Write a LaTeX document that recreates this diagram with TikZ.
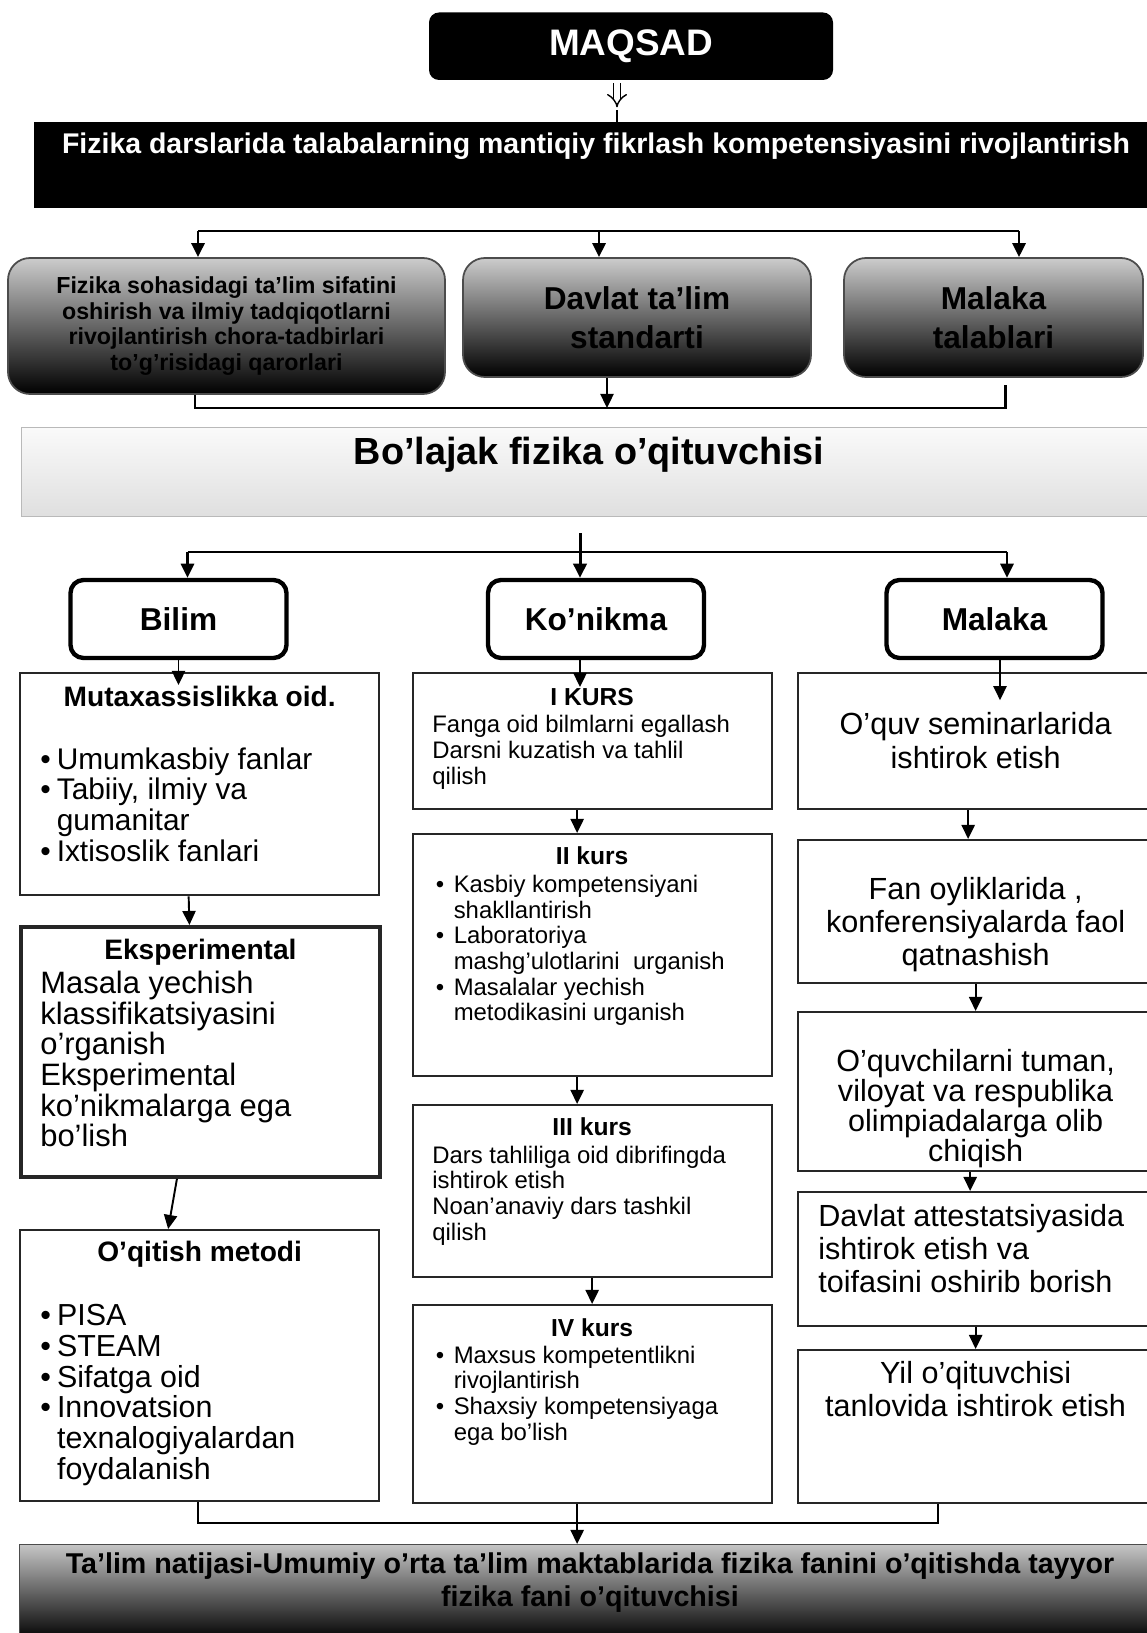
\documentclass[tikz,border=0pt]{standalone}
\usepackage{fontspec}
\setmainfont{Liberation Sans}
\usetikzlibrary{arrows.meta,positioning,calc}
\newcommand{\bul}[1][0.2em]{\textbullet\hspace{#1}}
\newcommand{\bulpad}[1][0.2em]{\hphantom{\textbullet}\hspace{#1}}

\begin{document}
\begin{tikzpicture}[
    arr/.style={-{Triangle[length=8pt,width=7.5pt]},line width=1.1pt},
    hub/.style={line width=1.7pt},
    grad/.style={draw=black!70,line width=1pt,rounded corners=0.44cm,top color=gray!40,
      bottom color=black,align=center,font=\fontsize{18}{22.5}\selectfont\bfseries},
    head/.style={draw=black,line width=2.5pt,rounded corners=0.26cm,fill=white,
      minimum width=4.32cm,minimum height=1.56cm,font=\fontsize{18}{22}\selectfont\bfseries},
    col/.style={draw=black!85,line width=1.3pt,anchor=north west,minimum width=7.18cm},
    ttl/.style={inner sep=0pt,font=\fontsize{16}{18}\selectfont\bfseries},
    kurs/.style={inner sep=0pt,font=\fontsize{14}{16}\selectfont\bfseries},
    big/.style={align=left,inner sep=0pt,font=\fontsize{17}{17.6}\selectfont},
    small/.style={align=left,inner sep=0pt,font=\fontsize{13.6}{14.6}\selectfont},
    side/.style={align=center,inner sep=0pt,font=\fontsize{17.4}{19.3}\selectfont}]
  \useasboundingbox (0,0) rectangle (22.92,-32.66);

  % goal and banner
  \node[fill=black,rounded corners=0.2cm,minimum width=8.08cm,minimum height=1.35cm,
    text=white,font=\fontsize{21}{24}\selectfont\bfseries] (maqsad) at (12.62,-0.925) {MAQSAD};
  \node[fill=black,minimum width=22.36cm,minimum height=1.72cm,anchor=north west] (banner) at (0.68,-2.44) {};
  \node[text=white,font=\fontsize{16.2}{18}\selectfont\bfseries] (bannertxt) at (11.92,-2.92)
    {Fizika darslarida talabalarning mantiqiy fikrlash kompetensiyasini rivojlantirish};
  \coordinate (m0) at ($(maqsad.south)+(-0.28,-0.06)$);
  \draw[double,double distance=3.2pt,line width=0.8pt,-{Implies[scale=1.6]}] (m0) -- ++(0,-0.48);
  \draw[line width=0.8pt] (banner.north -| m0) -- ++(0,0.24);

  % documents
  \node[grad,minimum width=8.74cm,minimum height=2.72cm,font=\fontsize{13.2}{14.5}\selectfont\bfseries]
    (decree) at (4.53,-6.52) {Fizika sohasidagi ta’lim sifatini\\oshirish va ilmiy tadqiqotlarni\\
    rivojlantirish chora-tadbirlari\\to’g’risidagi qarorlari};
  \node[grad,minimum width=6.96cm,minimum height=2.38cm] (standard) at (12.74,-6.35) {Davlat ta’lim\\standarti};
  \node[grad,minimum width=5.98cm,minimum height=2.38cm] (demand) at (19.87,-6.35) {Malaka\\talablari};

  \coordinate (t1) at (3.96,-4.62);
  \coordinate (t2) at (11.98,-4.62);
  \coordinate (t3) at (20.38,-4.62);
  \draw[hub] (t1) -- (t3);
  \draw[arr,line width=1.5pt] (t1) -- (t1 |- decree.north);
  \draw[arr,line width=1.5pt] (t2) -- (t2 |- standard.north);
  \draw[arr,line width=1.5pt] (t3) -- (t3 |- demand.north);

  \coordinate (j1) at (3.90,-8.16);
  \coordinate (j2) at (12.14,-8.16);
  \coordinate (j3) at (20.10,-8.16);
  \draw[hub] (decree.south -| j1) -- (j1) -- (j3) -- ++(0,0.46);
  \draw[arr] (standard.south -| j2) -- (j2);

  % future teacher
  \node[draw=gray!55,line width=0.8pt,top color=gray!4,bottom color=gray!25,
    minimum width=22.62cm,minimum height=1.78cm,anchor=north west] (future) at (0.42,-8.54) {};
  \node[font=\fontsize{21.5}{24}\selectfont\bfseries] (futuretxt) at (11.78,-9.10) {Bo’lajak fizika o’qituvchisi};

  \node[head] (bilim) at (3.57,-12.38) {Bilim};
  \node[head] (konikma) at (11.92,-12.38) {Ko’nikma};
  \node[head] (malaka) at (19.89,-12.38) {Malaka};

  \coordinate (f0) at (11.60,-10.66);
  \coordinate (f1) at (3.75,-11.04);
  \coordinate (f3) at (20.14,-11.04);
  \draw[hub] (f1) -- (f3);
  \draw[arr,line width=1.7pt] (f0) -- (f0 |- konikma.north);
  \draw[arr,line width=1.5pt] (f1) -- (f1 |- bilim.north);
  \draw[arr,line width=1.5pt] (f3) -- (f3 |- malaka.north);

  % knowledge column
  \node[col,minimum height=4.44cm] (L1) at (0.38,-13.44) {};
  \node[col,minimum height=5.00cm,line width=2.2pt] (L2) at (0.38,-18.50) {};
  \node[col,minimum height=5.42cm] (L3) at (0.38,-24.58) {};
  \node[ttl,below=0.28cm of L1.north] (L1h) {Mutaxassislikka oid.};
  \node[big,below right=1.50cm and 0.42cm of L1.north west] (L1b)
    {\bul Umumkasbiy fanlar\\\bul Tabiiy, ilmiy va\\\bulpad gumanitar\\\bul Ixtisoslik fanlari};
  \node[ttl,below=0.28cm of L2.north] (L2h) {Eksperimental};
  \node[big,font=\fontsize{17.6}{17.4}\selectfont,below right=0.92cm and 0.42cm of L2.north west] (L2b)
    {Masala yechish\\klassifikatsiyasini\\o’rganish\\Eksperimental\\ko’nikmalarga ega\\bo’lish};
  \node[ttl,below=0.24cm of L3.north] (L3h) {O’qitish metodi};
  \node[big,font=\fontsize{17.3}{17.5}\selectfont,below right=1.50cm and 0.42cm of L3.north west] (L3b)
    {\bul PISA\\\bul STEAM\\\bul Sifatga oid\\\bul Innovatsion\\\bulpad texnalogiyalardan\\\bulpad foydalanish};

  % skill column
  \node[col,minimum height=2.72cm] (M1) at (8.23,-13.44) {};
  \node[col,minimum height=4.84cm] (M2) at (8.23,-16.66) {};
  \node[col,minimum height=3.44cm] (M3) at (8.23,-22.08) {};
  \node[col,minimum height=3.96cm] (M4) at (8.23,-26.08) {};
  \node[kurs,below=0.31cm of M1.north] (M1h) {I KURS};
  \node[small,font=\fontsize{13.6}{14.8}\selectfont,below right=0.85cm and 0.41cm of M1.north west] (M1b)
    {Fanga oid bilmlarni egallash\\Darsni kuzatish va tahlil\\qilish};
  \node[kurs,below=0.27cm of M2.north] (M2h) {II kurs};
  \node[small,below right=0.84cm and 0.48cm of M2.north west] (M2b)
    {\bul[0.4em]Kasbiy kompetensiyani\\\bulpad[0.4em]shakllantirish\\\bul[0.4em]Laboratoriya\\
    \bulpad[0.4em]mashg’ulotlarini\ \ urganish\\\bul[0.4em]Masalalar yechish\\\bulpad[0.4em]metodikasini urganish};
  \node[kurs,below=0.27cm of M3.north] (M3h) {III kurs};
  \node[small,below right=0.83cm and 0.41cm of M3.north west] (M3b)
    {Dars tahliliga oid dibrifingda\\ishtirok etish\\Noan’anaviy dars tashkil\\qilish};
  \node[kurs,below=0.29cm of M4.north] (M4h) {IV kurs};
  \node[small,below right=0.83cm and 0.48cm of M4.north west] (M4b)
    {\bul[0.4em]Maxsus kompetentlikni\\\bulpad[0.4em]rivojlantirish\\\bul[0.4em]Shaxsiy kompetensiyaga\\
    \bulpad[0.4em]ega bo’lish};

  % competence column
  \node[col,minimum width=7.10cm,minimum height=2.72cm] (R1) at (15.94,-13.44) {};
  \node[col,minimum width=7.10cm,minimum height=2.86cm] (R2) at (15.94,-16.78) {};
  \node[col,minimum width=7.10cm,minimum height=3.18cm] (R3) at (15.94,-20.22) {};
  \node[col,minimum width=7.10cm,minimum height=2.68cm] (R4) at (15.94,-23.82) {};
  \node[col,minimum width=7.10cm,minimum height=3.06cm] (R5) at (15.94,-26.98) {};
  \node[side,below=0.80cm of R1.north] (R1t) {O’quv seminarlarida\\ishtirok etish};
  \node[side,font=\fontsize{17.4}{18.8}\selectfont,below=0.75cm of R2.north] (R2t)
    {Fan oyliklarida ,\\konferensiyalarda faol\\qatnashish};
  \node[side,font=\fontsize{17.4}{17.2}\selectfont,below=0.75cm of R3.north] (R3t)
    {O’quvchilarni tuman,\\viloyat va respublika\\olimpiadalarga olib\\chiqish};
  \node[side,align=left,font=\fontsize{17.4}{18.8}\selectfont,below right=0.26cm and 0.42cm of R4.north west] (R4t)
    {Davlat attestatsiyasida\\ishtirok etish va\\toifasini oshirib borish};
  \node[side,font=\fontsize{17.4}{18.8}\selectfont,below=0.24cm of R5.north] (R5t)
    {Yil o’qituvchisi\\tanlovida ishtirok etish};

  % column arrows
  \draw[arr] (bilim.south) -- ($(bilim.south |- L1.north)+(0,-0.26)$);
  \draw[arr] (konikma.south -| f0) -- ($(f0 |- M1.north)+(0,-0.3)$);
  \draw[arr] ($(malaka.south)+(0.11,0)$) -- ++(0,-0.8);
  \draw[arr] ($(L1.south)+(-0.22,0)$) -- ($(L2.north)+(-0.22,0)$);
  \draw[arr] ($(L2.south)+(-0.47,0)$) -- ($(L3.north)+(-0.63,0)$);
  \draw[arr] ($(M1.south)+(-0.30,0)$) -- ($(M2.north)+(-0.30,0)$);
  \draw[arr] ($(M2.south)+(-0.30,0)$) -- ($(M3.north)+(-0.30,0)$);
  \draw[arr] (M3.south) -- (M4.north);
  \draw[arr] ($(R1.south)+(-0.15,0)$) -- ($(R2.north)+(-0.15,0)$);
  \draw[arr] (R2.south) -- (R3.north);
  \draw[arr] ($(R3.south)+(-0.11,0)$) -- ($(R4.north)+(-0.11,0)$);
  \draw[arr] (R4.south) -- (R5.north);

  % result
  \node[draw=black!70,top color=gray!45,bottom color=black,minimum width=22.66cm,
    minimum height=1.92cm,anchor=north west] (final) at (0.38,-30.88) {};
  \node[align=center,font=\fontsize{16.3}{19}\selectfont\bfseries] (finaltxt) at (11.80,-31.65)
    {Ta’lim natijasi-Umumiy o’rta ta’lim maktablarida fizika fanini o’qitishda tayyor\\fizika fani o’qituvchisi};

  \coordinate (b1) at (3.96,-30.46);
  \coordinate (b3) at (18.76,-30.46);
  \draw[line width=1.3pt] (L3.south -| b1) -- (b1) -- (b3) -- (R5.south -| b3);
  \draw[arr] ($(M4.south)+(-0.30,0)$) -- ($(M4.south |- final.north)+(-0.30,0)$);
\end{tikzpicture}
\end{document}
